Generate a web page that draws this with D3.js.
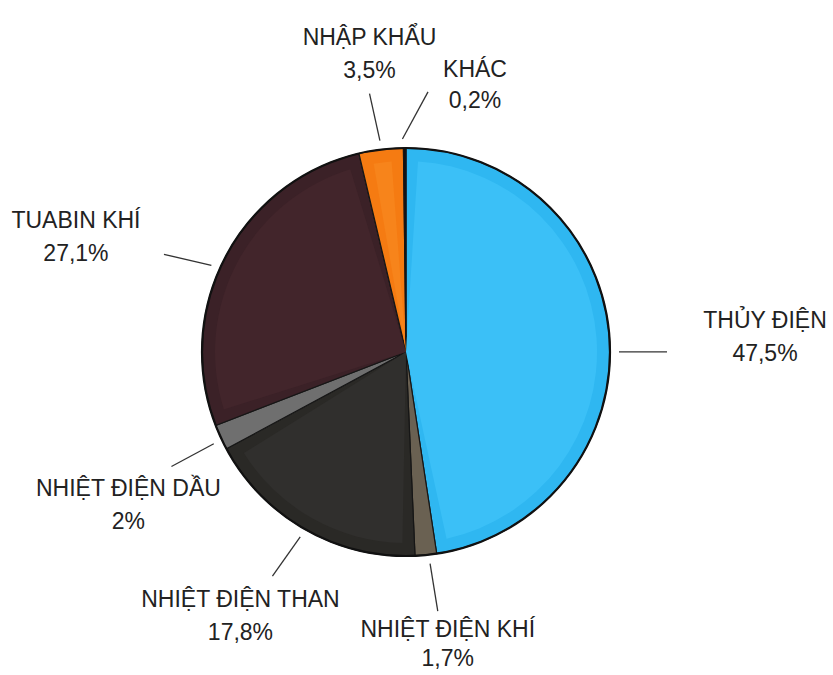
<!DOCTYPE html>
<html><head><meta charset="utf-8">
<script src="https://cdn.jsdelivr.net/npm/d3@7/dist/d3.min.js"></script>
<style>
html,body{margin:0;padding:0;background:#fff;}
svg{display:block;}
.lbl{font-family:"Liberation Sans",Arial,sans-serif;font-size:23px;fill:#222;text-anchor:middle;}
</style></head>
<body>
<svg id="chart" width="833" height="675"></svg>
<script>
// ---- data ----
const categories = ["THỦY ĐIỆN","NHIỆT ĐIỆN KHÍ","NHIỆT ĐIỆN THAN","NHIỆT ĐIỆN DẦU","TUABIN KHÍ","NHẬP KHẨU","KHÁC"];
const values = [47.5, 1.7, 17.8, 2, 27.1, 3.5, 0.2];
const valueLabels = ["47,5%","1,7%","17,8%","2%","27,1%","3,5%","0,2%"];
const colors = ["#2fb7f1","#6a6152","#2a2926","#6f6f6f","#3b2127","#f57b12","#111111"];
const innerColors = ["#3bc0f7","#746a5a","#302f2d","#808080","#42252b","#f7841b","#111111"];
// label layout (angle tweaks in degrees, text offsets from leader end, line gap)
const layout = [
  {a0:4.3,a1:4.3,dx:98,dy:-24,gap:33},
  {a0:-0.9,a1:-1.4,dx:10,dy:26,gap:29},
  {a0:0.2,a1:1.2,dx:-32,dy:31,gap:33},
  {a0:-0.8,a1:-1.3,dx:-43,dy:30,gap:33},
  {a0:-3.8,a1:-5.8,dx:-88,dy:-26,gap:33},
  {a0:0,a1:-1,dx:0,dy:-49,gap:33},
  {a0:-0.6,a1:5.2,dx:47,dy:-15,gap:31}
];

const svg = d3.select("#chart");
const cx = 406, cy = 352, R = 204;
const g = svg.append("g").attr("transform",`translate(${cx},${cy})`);

const data = categories.map((c,i)=>({name:c,value:values[i],i}));
const pie = d3.pie().value(d=>d.value).sort(null);
const arcs = pie(data);
const arc = d3.arc().innerRadius(0).outerRadius(R);
const innerArc = d3.arc().innerRadius(0).outerRadius(R-13).padAngle(0.05).padRadius(480);

g.selectAll("path.slice").data(arcs).join("path")
  .attr("class","slice")
  .attr("d",arc)
  .attr("fill",d=>colors[d.data.i])
  .attr("stroke","#161616").attr("stroke-width",1.2);

g.selectAll("path.inner").data(arcs.filter(d=>d.data.value>1)).join("path")
  .attr("class","inner")
  .attr("d",innerArc)
  .attr("fill",d=>innerColors[d.data.i]);

g.append("circle").attr("r",R).attr("fill","none").attr("stroke","#111").attr("stroke-width",2.2);

const polar = (ang,r)=>[r*Math.sin(ang), -r*Math.cos(ang)];
const rad = Math.PI/180;

arcs.forEach(d=>{
  const L = layout[d.data.i];
  const mid = (d.startAngle+d.endAngle)/2;
  const p0 = polar(mid+L.a0*rad, R+9);
  const p1 = polar(mid+L.a1*rad, R+57);
  g.append("line").attr("x1",p0[0]).attr("y1",p0[1]).attr("x2",p1[0]).attr("y2",p1[1])
    .attr("stroke","#333").attr("stroke-width",1.3);
  const t = g.append("text").attr("class","lbl")
    .attr("x",p1[0]+L.dx).attr("y",p1[1]+L.dy);
  t.append("tspan").attr("x",p1[0]+L.dx).text(d.data.name);
  t.append("tspan").attr("x",p1[0]+L.dx).attr("dy",L.gap).text(valueLabels[d.data.i]);
});
</script>
</body></html>
